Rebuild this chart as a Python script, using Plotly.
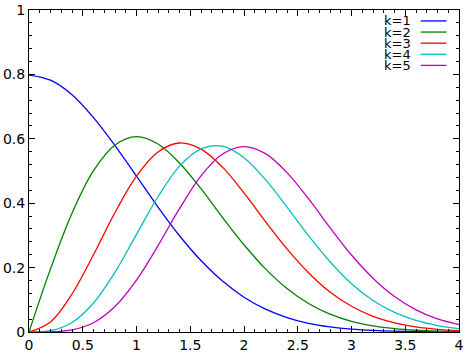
import plotly.graph_objects as go

x = [0.0, 0.2, 0.4, 0.6, 0.8, 1.0, 1.2, 1.4, 1.6, 1.8, 2.0,
     2.2, 2.4, 2.6, 2.8, 3.0, 3.2, 3.4, 3.6, 3.8, 4.0]

k1 = [0.798, 0.782, 0.737, 0.666, 0.579, 0.484, 0.388, 0.299, 0.222, 0.158, 0.108,
      0.071, 0.045, 0.027, 0.016, 0.0089, 0.0048, 0.0025, 0.0012, 0.0006, 0.0003]
k2 = [0.0, 0.196, 0.369, 0.501, 0.581, 0.607, 0.584, 0.525, 0.445, 0.356, 0.271,
      0.196, 0.135, 0.0885, 0.0556, 0.0333, 0.0191, 0.0105, 0.0055, 0.0028, 0.0013]
k3 = [0.0, 0.0313, 0.118, 0.240, 0.371, 0.484, 0.559, 0.587, 0.568, 0.512, 0.432,
      0.343, 0.258, 0.184, 0.124, 0.0798, 0.0488, 0.0285, 0.0159, 0.0084, 0.0043]
k4 = [0.0, 0.0039, 0.0295, 0.0902, 0.186, 0.303, 0.420, 0.515, 0.569, 0.577, 0.541,
      0.473, 0.388, 0.299, 0.218, 0.150, 0.0979, 0.0607, 0.0358, 0.0201, 0.0107]
k5 = [0.0, 0.0004, 0.0063, 0.0288, 0.0791, 0.161, 0.268, 0.383, 0.485, 0.553, 0.576,
      0.554, 0.495, 0.414, 0.324, 0.239, 0.167, 0.110, 0.0687, 0.0404, 0.0229]

names = ["k=1", "k=2", "k=3", "k=4", "k=5"]
series = [k1, k2, k3, k4, k5]
colors = ["#0000ff", "#008000", "#ff0000", "#00bfbf", "#bf00bf"]

x_ticks = [0, 0.5, 1, 1.5, 2, 2.5, 3, 3.5, 4]
x_tick_text = ["0", "0.5", "1", "1.5", "2", "2.5", "3", "3.5", "4"]
y_ticks = [0, 0.2, 0.4, 0.6, 0.8, 1]
y_tick_text = ["0", "0.2", "0.4", "0.6", "0.8", "1"]

fig = go.Figure()
for nm, ys, c in zip(names, series, colors):
    fig.add_trace(go.Scatter(x=x, y=ys, mode="lines", name=nm,
                             line=dict(color=c, width=1.3, shape="spline", smoothing=1.0),
                             showlegend=False))

# legend drawn manually (text left of line sample)
for i, (nm, c) in enumerate(zip(names, colors)):
    yp = 0.966 - i * 0.0345
    fig.add_annotation(x=0.894, y=yp, xref="paper", yref="paper", text=nm,
                       showarrow=False, xanchor="right", yanchor="middle",
                       font=dict(size=13, color="black", family="DejaVu Sans"))
    fig.add_shape(type="line", xref="paper", yref="paper",
                  x0=0.911, x1=0.971, y0=yp, y1=yp,
                  line=dict(color=c, width=1.3))

axis_common = dict(showline=True, linecolor="black", linewidth=1, mirror="ticks",
                   ticks="inside", ticklen=6, tickcolor="black", tickwidth=1,
                   showgrid=False, zeroline=False, automargin=False,
                   tickfont=dict(size=14, color="black", family="DejaVu Sans"))

fig.update_xaxes(range=[0, 4], tickvals=x_ticks, ticktext=x_tick_text,
                 minor=dict(dtick=0.1, ticks="inside", ticklen=3, tickcolor="black", showgrid=False),
                 **axis_common)
fig.update_yaxes(range=[0, 1], tickvals=y_ticks, ticktext=y_tick_text,
                 minor=dict(dtick=0.04, ticks="inside", ticklen=3, tickcolor="black", showgrid=False),
                 **axis_common)

fig.update_layout(width=474, height=355, plot_bgcolor="white", paper_bgcolor="white",
                  margin=dict(l=29, r=15, t=10, b=23, pad=0))

fig.write_html("out.html")
